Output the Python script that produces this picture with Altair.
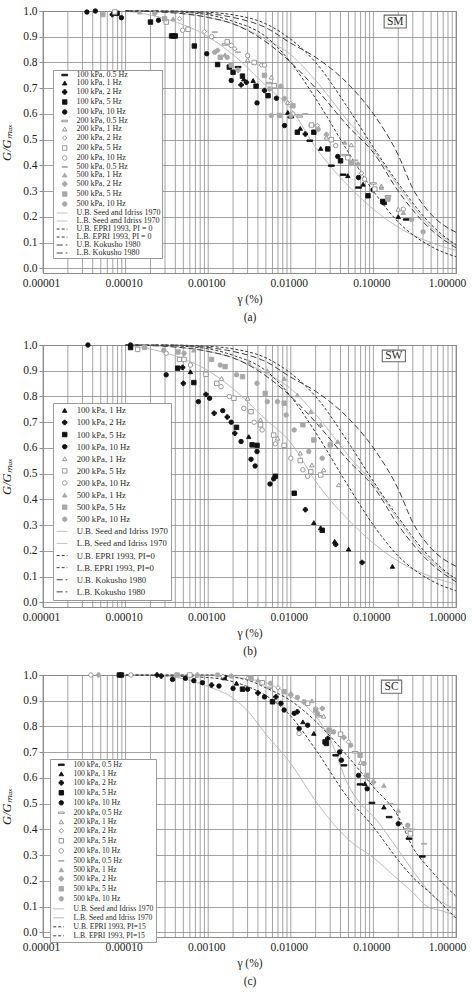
import altair as alt
import pandas as pd

# ---------------- panel (a): SM, measured G/Gmax against strain (%) ----------------
SM_100_05 = [(0.0023, 0.782), (0.010, 0.587), (0.017, 0.496), (0.031, 0.399), (0.043, 0.364),
             (0.066, 0.314), (0.25, 0.19)]
SM_100_1 = [(0.0027, 0.736), (0.0035, 0.73), (0.0092, 0.606), (0.013, 0.544), (0.023, 0.466),
            (0.049, 0.36), (0.075, 0.327), (0.20, 0.201)]
SM_100_2 = [(0.000069, 0.986), (0.0025, 0.713), (0.0029, 0.723), (0.0048, 0.691), (0.015, 0.522)]
SM_100_5 = [(0.000079, 0.991), (0.00020, 0.957), (0.00036, 0.903), (0.00038, 0.903), (0.00040, 0.903),
            (0.00068, 0.864), (0.0013, 0.792), (0.0018, 0.782), (0.0020, 0.762), (0.0026, 0.747),
            (0.0038, 0.708), (0.0053, 0.671), (0.012, 0.529), (0.019, 0.529), (0.028, 0.464),
            (0.040, 0.418), (0.086, 0.282), (0.13, 0.26), (0.135, 0.256)]
SM_100_10 = [(0.000034, 0.996), (0.000043, 1.0), (0.000089, 0.974), (0.00025, 0.964), (0.00096, 0.834),
             (0.0019, 0.73), (0.0039, 0.643), (0.0067, 0.661), (0.0084, 0.555), (0.037, 0.435),
             (0.066, 0.353), (0.099, 0.305)]
SM_200_05 = [(0.0016, 0.87), (0.0055, 0.72), (0.0128, 0.59), (0.018, 0.555), (0.045, 0.44),
             (0.10, 0.33), (0.15, 0.28)]
SM_200_1 = [(0.0030, 0.81), (0.0058, 0.743), (0.0092, 0.645), (0.027, 0.51), (0.054, 0.48),
            (0.125, 0.32), (0.20, 0.23)]
SM_200_2 = [(0.00045, 0.97), (0.0009, 0.92), (0.0021, 0.853), (0.0044, 0.79), (0.010, 0.64),
            (0.021, 0.555), (0.072, 0.37)]
SM_200_5 = [(0.000074, 0.996), (0.00031, 0.957), (0.00057, 0.929), (0.0017, 0.88), (0.0036, 0.80),
            (0.0063, 0.71), (0.0178, 0.557), (0.031, 0.50), (0.049, 0.43), (0.104, 0.308)]
SM_200_10 = [(0.00049, 0.925), (0.0011, 0.90), (0.0019, 0.866), (0.0030, 0.827), (0.0048, 0.79),
             (0.0106, 0.60), (0.035, 0.477), (0.078, 0.347), (0.23, 0.23)]
SM_500_05 = [(0.0012, 0.918), (0.0023, 0.84), (0.0076, 0.70), (0.015, 0.60), (0.060, 0.42), (0.15, 0.27)]
SM_500_1 = [(0.000148, 0.996), (0.000375, 0.97), (0.0016, 0.83), (0.045, 0.49), (0.125, 0.314),
            (0.23, 0.217)]
SM_500_2 = [(0.000225, 0.99), (0.0013, 0.847), (0.0023, 0.77), (0.0055, 0.697), (0.0084, 0.66),
            (0.027, 0.52), (0.065, 0.405)]
SM_500_5 = [(0.000053, 0.986), (0.000297, 0.97), (0.0014, 0.82), (0.0019, 0.79), (0.0048, 0.75),
            (0.0073, 0.594), (0.0106, 0.632), (0.054, 0.41), (0.15, 0.269)]
SM_500_10 = [(0.0012, 0.84), (0.0017, 0.82), (0.0058, 0.594), (0.0076, 0.708), (0.010, 0.593),
             (0.0214, 0.54), (0.29, 0.19), (0.40, 0.142)]

# ---------------- panel (b): SW ----------------
SW_100_1 = [(0.00061, 0.896), (0.0031, 0.644), (0.019, 0.31), (0.023, 0.29), (0.034, 0.237),
            (0.050, 0.207), (0.17, 0.14)]
SW_100_2 = [(0.00049, 0.913), (0.00050, 0.851), (0.00094, 0.808), (0.0017, 0.72), (0.00118, 0.735),
            (0.0021, 0.657), (0.015, 0.36), (0.035, 0.225), (0.073, 0.155)]
SW_100_5 = [(0.000115, 0.99), (0.000427, 0.91), (0.00067, 0.854), (0.0022, 0.68), (0.0034, 0.612),
            (0.0039, 0.61), (0.0065, 0.49), (0.011, 0.424), (0.024, 0.28)]
SW_100_10 = [(0.000035, 1.0), (0.000115, 1.0), (0.00031, 0.884), (0.00076, 0.78), (0.00104, 0.793),
             (0.0015, 0.745), (0.0019, 0.70), (0.0025, 0.625), (0.0033, 0.556), (0.0037, 0.53),
             (0.0039, 0.586), (0.0056, 0.46), (0.0062, 0.48)]
SW_200_1 = [(0.00145, 0.87), (0.0030, 0.793), (0.0043, 0.709), (0.0069, 0.638), (0.013, 0.58),
            (0.018, 0.534), (0.025, 0.515), (0.038, 0.457)]
SW_200_5 = [(0.00014, 0.983), (0.00045, 0.944), (0.00051, 0.944), (0.00094, 0.886), (0.00127, 0.851),
            (0.00205, 0.793), (0.0033, 0.741), (0.0043, 0.69), (0.0062, 0.65), (0.0083, 0.61),
            (0.013, 0.551), (0.0175, 0.508), (0.023, 0.495)]
SW_200_10 = [(0.00031, 0.968), (0.00061, 0.922), (0.00143, 0.838), (0.0018, 0.80), (0.0027, 0.754),
             (0.0036, 0.70), (0.0045, 0.67), (0.0065, 0.616), (0.010, 0.56), (0.014, 0.515),
             (0.016, 0.49)]
SW_500_1 = [(0.00067, 0.98), (0.0031, 0.93), (0.0052, 0.90), (0.0083, 0.87), (0.012, 0.806),
            (0.0175, 0.741), (0.023, 0.69), (0.037, 0.625)]
SW_500_5 = [(0.00017, 0.991), (0.00043, 0.973), (0.0011, 0.944), (0.0016, 0.916), (0.0026, 0.877),
            (0.0049, 0.812), (0.0083, 0.774), (0.014, 0.69), (0.019, 0.631), (0.030, 0.612)]
SW_500_10 = [(0.00029, 0.98), (0.00051, 0.968), (0.0014, 0.922), (0.0022, 0.884), (0.0039, 0.851),
             (0.0052, 0.78), (0.0069, 0.78), (0.0088, 0.728), (0.011, 0.67), (0.0165, 0.586),
             (0.024, 0.56)]

# ---------------- panel (c): SC ----------------
SC_100_05 = [(0.035, 0.688), (0.044, 0.649), (0.069, 0.575), (0.096, 0.503), (0.155, 0.448),
             (0.27, 0.364), (0.39, 0.295)]
SC_100_1 = [(0.0022, 0.968), (0.014, 0.818), (0.019, 0.773), (0.079, 0.578), (0.134, 0.487)]
SC_100_2 = [(0.00024, 1.0), (0.00027, 0.996), (0.0011, 0.961), (0.0040, 0.93), (0.0066, 0.915),
            (0.012, 0.857), (0.028, 0.753)]
SC_100_5 = [(0.000084, 1.0), (0.000089, 1.0), (0.00156, 0.99), (0.0026, 0.945), (0.0060, 0.896),
            (0.026, 0.74), (0.027, 0.734)]
SC_100_10 = [(0.00037, 0.983), (0.00053, 0.987), (0.00067, 0.978), (0.00085, 0.97), (0.00135, 0.957),
             (0.0020, 0.948), (0.0030, 0.945), (0.0048, 0.915), (0.0076, 0.89), (0.0083, 0.864),
             (0.011, 0.851), (0.0126, 0.792), (0.016, 0.805), (0.039, 0.701), (0.041, 0.669),
             (0.066, 0.61), (0.084, 0.558), (0.20, 0.422)]
SC_200_05 = [(0.0055, 0.95), (0.022, 0.84), (0.060, 0.70), (0.26, 0.40)]
SC_200_1 = [(0.0030, 0.99), (0.010, 0.93), (0.025, 0.84), (0.070, 0.66)]
SC_200_2 = [(0.0015, 0.995), (0.0070, 0.95), (0.020, 0.87), (0.050, 0.74)]
SC_200_5 = [(0.0006, 1.0), (0.0045, 0.97), (0.016, 0.89), (0.040, 0.77), (0.28, 0.383)]
SC_200_10 = [(0.000038, 1.0), (0.000116, 1.0), (0.0126, 0.773), (0.030, 0.78)]
SC_500_05 = [(0.16, 0.50), (0.30, 0.40), (0.41, 0.344)]
SC_500_1 = [(0.0040, 0.98), (0.018, 0.90), (0.134, 0.571), (0.20, 0.474)]
SC_500_2 = [(0.000047, 1.0), (0.00074, 1.0), (0.010, 0.922), (0.024, 0.87), (0.044, 0.757), (0.10, 0.584)]
SC_500_5 = [(0.00042, 1.0), (0.0033, 0.987), (0.0083, 0.935), (0.020, 0.864), (0.029, 0.786),
            (0.069, 0.688), (0.084, 0.61)]
SC_500_10 = [(0.0013, 1.0), (0.0019, 0.996), (0.0057, 0.968), (0.012, 0.913), (0.0145, 0.896),
             (0.021, 0.85), (0.033, 0.779), (0.053, 0.727), (0.077, 0.656), (0.26, 0.416)]

# ---------------- published reference bounds (strain %, G/Gmax) ----------------
SAND_SI_UB = [(1e-4, 1.0), (3e-4, 0.995), (1e-3, 0.975), (2e-3, 0.95), (5e-3, 0.89), (1e-2, 0.83),
              (2e-2, 0.73), (5e-2, 0.57), (0.1, 0.46), (0.2, 0.32), (0.5, 0.16), (1.0, 0.09)]
SAND_SI_LB = [(1e-4, 1.0), (3e-4, 0.97), (1e-3, 0.90), (2e-3, 0.83), (5e-3, 0.71), (1e-2, 0.62),
              (2e-2, 0.47), (5e-2, 0.32), (0.1, 0.23), (0.2, 0.16), (0.5, 0.10), (1.0, 0.07)]
EPRI0_UB = [(1e-4, 1.0), (3e-4, 1.0), (1e-3, 0.995), (2e-3, 0.985), (5e-3, 0.95), (1e-2, 0.89),
            (2e-2, 0.80), (5e-2, 0.62), (0.1, 0.47), (0.2, 0.33), (0.5, 0.17), (1.0, 0.09)]
EPRI0_LB = [(1e-4, 1.0), (3e-4, 0.998), (1e-3, 0.985), (2e-3, 0.96), (5e-3, 0.90), (1e-2, 0.80),
            (2e-2, 0.66), (5e-2, 0.45), (0.1, 0.30), (0.2, 0.18), (0.5, 0.085), (1.0, 0.045)]
KOK_UB = [(1e-4, 1.0), (3e-4, 1.0), (1e-3, 0.99), (2e-3, 0.975), (5e-3, 0.935), (1e-2, 0.875),
          (2e-2, 0.82), (5e-2, 0.715), (0.1, 0.60), (0.2, 0.44), (0.3, 0.31), (0.5, 0.21), (1.0, 0.14)]
KOK_LB = [(1e-4, 1.0), (3e-4, 0.995), (1e-3, 0.975), (2e-3, 0.95), (5e-3, 0.88), (1e-2, 0.80),
          (2e-2, 0.70), (5e-2, 0.55), (0.1, 0.45), (0.2, 0.30), (0.5, 0.15), (1.0, 0.08)]
CLAY_SI_UB = [(1e-4, 1.0), (1e-3, 1.0), (3e-3, 0.985), (5e-3, 0.97), (1e-2, 0.92), (2e-2, 0.84),
              (3e-2, 0.75), (5e-2, 0.57), (7e-2, 0.50), (0.1, 0.45), (0.2, 0.32), (0.3, 0.24),
              (0.5, 0.15), (1.0, 0.09)]
CLAY_SI_LB = [(1e-4, 1.0), (2e-4, 1.0), (5e-4, 0.985), (1e-3, 0.955), (2e-3, 0.91), (3e-3, 0.86),
              (5e-3, 0.77), (1e-2, 0.656), (2e-2, 0.51), (5e-2, 0.36), (0.1, 0.29), (0.2, 0.205),
              (0.3, 0.155), (0.45, 0.10), (0.65, 0.085), (1.0, 0.065)]
EPRI15_UB = [(1e-4, 1.0), (1e-3, 1.0), (3e-3, 0.98), (5e-3, 0.95), (1e-2, 0.90), (2e-2, 0.82),
             (5e-2, 0.68), (0.1, 0.565), (0.2, 0.45), (0.3, 0.33), (0.5, 0.24), (1.0, 0.14)]
EPRI15_LB = [(1e-4, 1.0), (1e-3, 0.99), (3e-3, 0.955), (5e-3, 0.92), (1e-2, 0.84), (2e-2, 0.71),
             (5e-2, 0.52), (0.1, 0.41), (0.2, 0.28), (0.3, 0.214), (0.5, 0.15), (1.0, 0.055)]

SM_POINTS = {
    "100 kPa, 0.5 Hz": SM_100_05, "100 kPa, 1 Hz": SM_100_1, "100 kPa, 2 Hz": SM_100_2,
    "100 kPa, 5 Hz": SM_100_5, "100 kPa, 10 Hz": SM_100_10,
    "200 kPa, 0.5 Hz": SM_200_05, "200 kPa, 1 Hz": SM_200_1, "200 kPa, 2 Hz": SM_200_2,
    "200 kPa, 5 Hz": SM_200_5, "200 kPa, 10 Hz": SM_200_10,
    "500 kPa, 0.5 Hz": SM_500_05, "500 kPa, 1 Hz": SM_500_1, "500 kPa, 2 Hz": SM_500_2,
    "500 kPa, 5 Hz": SM_500_5, "500 kPa, 10 Hz": SM_500_10,
}
SM_CURVES = {
    "U.B. Seed and Idriss 1970": SAND_SI_UB, "L.B. Seed and Idriss 1970": SAND_SI_LB,
    "U.B. EPRI 1993, PI = 0": EPRI0_UB, "L.B. EPRI 1993, PI = 0": EPRI0_LB,
    "U.B. Kokusho 1980": KOK_UB, "L.B. Kokusho 1980": KOK_LB,
}
SW_POINTS = {
    "100 kPa, 1 Hz": SW_100_1, "100 kPa, 2 Hz": SW_100_2, "100 kPa, 5 Hz": SW_100_5,
    "100 kPa, 10 Hz": SW_100_10, "200 kPa, 1 Hz": SW_200_1, "200 kPa, 5 Hz": SW_200_5,
    "200 kPa, 10 Hz": SW_200_10, "500 kPa, 1 Hz": SW_500_1, "500 kPa, 5 Hz": SW_500_5,
    "500 kPa, 10 Hz": SW_500_10,
}
SW_CURVES = {
    "U.B. Seed and Idriss 1970": SAND_SI_UB, "L.B. Seed and Idriss 1970": SAND_SI_LB,
    "U.B. EPRI 1993, PI=0": EPRI0_UB, "L.B. EPRI 1993, PI=0": EPRI0_LB,
    "U.B. Kokusho 1980": KOK_UB, "L.B. Kokusho 1980": KOK_LB,
}
SC_POINTS = {
    "100 kPa, 0.5 Hz": SC_100_05, "100 kPa, 1 Hz": SC_100_1, "100 kPa, 2 Hz": SC_100_2,
    "100 kPa, 5 Hz": SC_100_5, "100 kPa, 10 Hz": SC_100_10,
    "200 kPa, 0.5 Hz": SC_200_05, "200 kPa, 1 Hz": SC_200_1, "200 kPa, 2 Hz": SC_200_2,
    "200 kPa, 5 Hz": SC_200_5, "200 kPa, 10 Hz": SC_200_10,
    "500 kPa, 0.5 Hz": SC_500_05, "500 kPa, 1 Hz": SC_500_1, "500 kPa, 2 Hz": SC_500_2,
    "500 kPa, 5 Hz": SC_500_5, "500 kPa, 10 Hz": SC_500_10,
}
SC_CURVES = {
    "U.B. Seed and Idriss 1970": CLAY_SI_UB, "L.B. Seed and Idriss 1970": CLAY_SI_LB,
    "U.B. EPRI 1993, PI=15": EPRI15_UB, "L.B. EPRI 1993, PI=15": EPRI15_LB,
}

# log-decade gridline positions, labelled decades, and G/Gmax gridlines
X_GRID = [m * 10.0 ** e for e in range(-5, 0) for m in range(1, 10)] + [1.0]
X_DECADES = [1e-5, 1e-4, 1e-3, 1e-2, 1e-1, 1.0]
Y_TICKS = [0.0, 0.1, 0.2, 0.3, 0.4, 0.5, 0.6, 0.7, 0.8, 0.9, 1.0]

# ---------------- styling ----------------
SERIF = "Liberation Serif"
DASH = "M-1.3,-0.33H1.3V0.33H-1.3Z"
THIN_DASH = "M-1.2,-0.16H1.2V0.16H-1.2Z"
LINE_KEY = "M-3.6,0H1.2"
MARK_SIZE = 20
GRID = "#8c8c8c"

FREQ_SHAPE = {"0.5 Hz": DASH, "1 Hz": "triangle-up", "2 Hz": "cross", "5 Hz": "square", "10 Hz": "circle"}
P_FILL = {"100 kPa": "#111111", "200 kPa": "#ffffff", "500 kPa": "#a8a8a8"}
P_STROKE = {"100 kPa": "#111111", "200 kPa": "#8e8e8e", "500 kPa": "#a8a8a8"}
CURVE_STROKE = {"Seed": "#b4b4b4", "EPRI": "#3c3c3c", "Kokusho": "#404040"}
CURVE_DASH = {"Seed": [1, 0], "EPRI": [3, 2], "Kokusho": [6, 3]}

INDEPENDENT = dict(shape="independent", fill="independent", stroke="independent",
                   strokeDash="independent")


def family(name):
    for k in CURVE_STROKE:
        if k in name:
            return k
    return None


def style(name):
    fam = family(name)
    if fam:
        return LINE_KEY, "transparent", CURVE_STROKE[fam], CURVE_DASH[fam]
    p, f = name.split(", ")
    shape = FREQ_SHAPE[f]
    if p == "200 kPa" and f == "2 Hz":
        shape = "diamond"
    if p == "500 kPa" and f == "0.5 Hz":
        shape = THIN_DASH
    return shape, P_FILL[p], P_STROKE[p], [1, 0]


def panel(points, curves, tag, tag_box, caption, legend_xy, font, row_pad, pad, sym_off, lab_off):
    order = list(points) + list(curves)
    shapes, fills, strokes, dashes = zip(*[style(n) for n in order])

    pts = pd.DataFrame([{"series": k, "strain": x, "ratio": y}
                        for k, v in points.items() for x, y in v])
    crv = pd.DataFrame([{"series": k, "strain": x, "ratio": y}
                        for k, v in curves.items() for x, y in v])
    grid = pd.DataFrame({"strain": X_GRID})

    legend = alt.Legend(
        title=None, orient="none", legendX=legend_xy[0], legendY=legend_xy[1],
        padding=pad, fillColor="white", strokeColor="#9a9a9a",
        labelFont=SERIF, labelFontSize=font, labelColor="#2a2a2a", labelLimit=300,
        rowPadding=row_pad, symbolOffset=sym_off, labelOffset=lab_off,
        symbolSize=MARK_SIZE, symbolStrokeWidth=1,
    )
    sc_shape = alt.Scale(domain=order, range=list(shapes))
    sc_fill = alt.Scale(domain=order, range=list(fills))
    sc_stroke = alt.Scale(domain=order, range=list(strokes))
    sc_dash = alt.Scale(domain=order, range=[list(d) for d in dashes])

    x_scale = alt.Scale(type="log", domain=[1e-5, 1.0], nice=False)
    x_axis = alt.Axis(
        values=X_DECADES, format=".5f", grid=False, ticks=False,
        labelOverlap=False, labelFlush=False, labelPadding=4,
        labelOffset={"condition": {"test": "datum.value > 0.5", "value": -9}, "value": -2},
        title=["γ (%)", caption], titlePadding=5, titleLineHeight=18,
    )
    y_scale = alt.Scale(domain=[-0.018, 1.0], nice=False, zero=False)
    y_axis = alt.Axis(
        values=Y_TICKS, format=".1f", grid=True, labelOverlap=False,
        tickSize=4, labelPadding=2, title="G/Gₘₐₓ", titleFontStyle="italic",
        titleFontSize=12.5, titlePadding=9,
    )

    def X(field):
        return alt.X(field, type="quantitative", scale=x_scale, axis=x_axis)

    def Y(field):
        return alt.Y(field, type="quantitative", scale=y_scale, axis=y_axis)

    grid_layer = alt.Chart(grid).mark_rule(color=GRID, strokeWidth=0.8).encode(x=X("strain"))
    point_layer = alt.Chart(pts).mark_point(
        filled=True, size=MARK_SIZE, strokeWidth=0.9, opacity=1
    ).encode(
        x=X("strain"), y=Y("ratio"),
        shape=alt.Shape("series:N", scale=sc_shape, legend=legend),
        fill=alt.Fill("series:N", scale=sc_fill, legend=legend),
        stroke=alt.Stroke("series:N", scale=sc_stroke, legend=legend),
    )
    line_layer = alt.Chart(crv).mark_line(strokeWidth=1, interpolate="monotone").encode(
        x=X("strain"), y=Y("ratio"),
        stroke=alt.Stroke("series:N", scale=sc_stroke, legend=legend),
        strokeDash=alt.StrokeDash("series:N", scale=sc_dash, legend=legend),
    )

    box = pd.DataFrame([{"x0": tag_box[0], "x1": tag_box[1], "y0": tag_box[2], "y1": tag_box[3],
                         "xm": (tag_box[0] * tag_box[1]) ** 0.5, "ym": (tag_box[2] + tag_box[3]) / 2,
                         "label": tag}])
    tag_rect = alt.Chart(box).mark_rect(fill="white", stroke="#6a6a6a", strokeWidth=1.1).encode(
        x=X("x0"), x2="x1:Q", y=Y("y0"), y2="y1:Q")
    tag_text = alt.Chart(box).mark_text(font=SERIF, fontSize=11.5, color="#2a2a2a").encode(
        x=X("xm"), y=Y("ym"), text="label:N")

    return alt.layer(grid_layer, line_layer, point_layer, tag_rect, tag_text).properties(
        width=413, height=262)


a = panel(SM_POINTS, SM_CURVES, "SM", (0.135, 0.25, 0.934, 0.984), "(a)",
          (10, 59), 8.0, 0, 1.0, 6.7, 7.7)
b = panel(SW_POINTS, SW_CURVES, "SW", (0.128, 0.244, 0.935, 0.98), "(b)",
          (10, 58), 8.7, 2.1, 3.0, 4.35, 7.6)
c = panel(SC_POINTS, SC_CURVES, "SC", (0.125, 0.22, 0.929, 0.98), "(c)",
          (7, 84), 7.6, 0, 2.0, 5.5, 8.4)

upper = alt.vconcat(a, b, spacing=14).resolve_scale(**INDEPENDENT).resolve_legend(**INDEPENDENT)
chart = alt.vconcat(upper, c, spacing=10).resolve_scale(**INDEPENDENT).resolve_legend(
    **INDEPENDENT
).properties(
    padding={"left": 0, "top": 4, "right": 0, "bottom": 0}, background="white"
).configure_view(
    stroke=GRID, strokeWidth=1
).configure_axis(
    gridColor=GRID, gridWidth=0.8, domainColor=GRID, tickColor=GRID,
    labelFont=SERIF, labelFontSize=11.5, labelColor="#222222",
    titleFont=SERIF, titleFontSize=11.5, titleFontWeight="normal", titleColor="#222222",
)

chart.save("out.html", embed_options={"renderer": "svg", "actions": False})
